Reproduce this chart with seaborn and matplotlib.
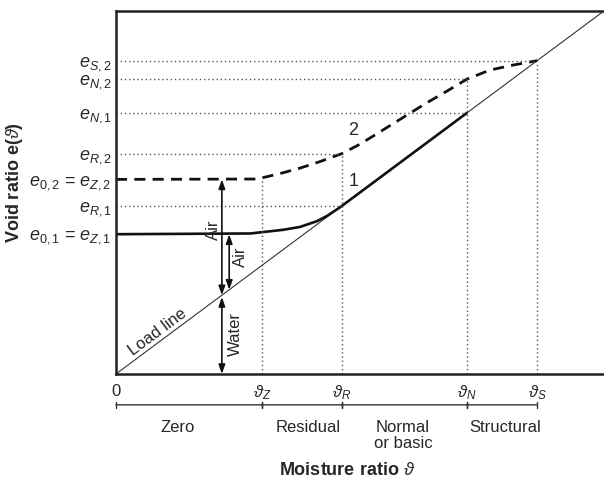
import numpy as np
import pandas as pd
import matplotlib
matplotlib.use('Agg')
import matplotlib.pyplot as plt
import seaborn as sns

# moisture ratios marking the shrinkage zones
theta_marks = [0, 2.99, 4.63, 7.19, 8.63]
theta_labels = ['0', r'$\vartheta_{Z}$', r'$\vartheta_{R}$', r'$\vartheta_{N}$', r'$\vartheta_{S}$']

# void ratio marks on the y axis
e_marks = [3.85, 4.63, 5.36, 6.07, 7.19, 8.12, 8.63]
e_labels = [r'$e_{0,1}$ = $e_{Z,1}$', r'$e_{R,1}$', r'$e_{0,2}$ = $e_{Z,2}$', r'$e_{R,2}$',
            r'$e_{N,1}$', r'$e_{N,2}$', r'$e_{S,2}$']

# shrinkage curve 1 (solid) and 2 (dashed)
curve1_x = [0, 2.75, 3.42, 3.77, 4.12, 4.32, 4.59, 7.19]
curve1_y = [3.85, 3.87, 3.97, 4.05, 4.21, 4.35, 4.59, 7.19]
curve2_x = [0, 2.89, 3.36, 3.77, 4.18, 4.63, 5.0, 5.47, 5.96, 6.37, 6.78, 7.19, 7.66, 8.14, 8.63]
curve2_y = [5.36, 5.37, 5.52, 5.67, 5.85, 6.07, 6.33, 6.72, 7.13, 7.47, 7.79, 8.12, 8.37, 8.51, 8.63]

# load line (saturated soil)
load_x = [0, 10]
load_y = [0, 10]

zone_names = ['Zero', 'Residual', 'Normal\nor basic', 'Structural']
zone_label_x = [1.27, 3.93, 5.88, 7.97]

sns.set_theme(style='white')
plt.rcParams['font.family'] = ['Liberation Sans', 'DejaVu Sans']
plt.rcParams['mathtext.fontset'] = 'custom'
plt.rcParams['mathtext.rm'] = 'Liberation Sans'
plt.rcParams['mathtext.it'] = 'Liberation Sans:italic'
plt.rcParams['mathtext.bf'] = 'Liberation Sans:bold'

fig = plt.figure(figsize=(6.04, 4.86), dpi=100)
ax = fig.add_axes([0.192, 0.2305, 0.808, 0.747])

c1 = pd.DataFrame({'x': curve1_x, 'y': curve1_y})
c2 = pd.DataFrame({'x': curve2_x, 'y': curve2_y})

sns.lineplot(x=load_x, y=load_y, ax=ax, color='#333333', lw=0.8)
sns.lineplot(data=c1, x='x', y='y', ax=ax, color='#111111', lw=1.9, sort=False,
             solid_joinstyle='round')
sns.lineplot(data=c2, x='x', y='y', ax=ax, color='#111111', lw=2.0, sort=False,
             linestyle=(0, (4, 2.6)), dash_joinstyle='round')

# dotted guide lines
dot = dict(color='#555555', lw=1.0, linestyle=(0, (1, 2)))
ax.plot([0, theta_marks[4]], [e_marks[6], e_marks[6]], **dot)
ax.plot([0, theta_marks[3]], [e_marks[5], e_marks[5]], **dot)
ax.plot([0, theta_marks[3]], [e_marks[4], e_marks[4]], **dot)
ax.plot([0, theta_marks[2]], [e_marks[3], e_marks[3]], **dot)
ax.plot([0, theta_marks[2]], [e_marks[1], e_marks[1]], **dot)
ax.plot([theta_marks[1], theta_marks[1]], [0, e_marks[2]], **dot)
ax.plot([theta_marks[2], theta_marks[2]], [0, e_marks[3]], **dot)
ax.plot([theta_marks[3], theta_marks[3]], [0, e_marks[5]], **dot)
ax.plot([theta_marks[4], theta_marks[4]], [0, e_marks[6]], **dot)

# air / water arrows
arr = dict(arrowstyle='<|-|>,head_length=0.45,head_width=0.16', color='#111111', lw=1.2,
           shrinkA=0, shrinkB=0)
xa, xb = 2.17, 2.32
ax.annotate('', xy=(xa, e_marks[2]), xytext=(xa, xa), arrowprops=arr)
ax.annotate('', xy=(xa, xa - 0.05), xytext=(xa, 0), arrowprops=arr)
ax.annotate('', xy=(xb, e_marks[0]), xytext=(xb, xb), arrowprops=arr)
ax.text(1.99, 3.97, 'Air', rotation=90, ha='center', va='center', fontsize=12)
ax.text(2.56, 3.22, 'Air', rotation=90, ha='center', va='center', fontsize=12)
ax.text(2.44, 1.10, 'Water', rotation=90, ha='center', va='center', fontsize=12)
ax.text(0.86, 1.16, 'Load line', rotation=36.6, ha='center', va='center', fontsize=12,
        rotation_mode='anchor')
ax.text(4.86, 5.29, '1', ha='center', va='center', fontsize=13)
ax.text(4.86, 6.72, '2', ha='center', va='center', fontsize=13)

ax.set_xlim(0, 10)
ax.set_ylim(0, 10)
ax.set_xticks(theta_marks)
ax.set_xticklabels(theta_labels, fontsize=12)
ax.set_yticks(e_marks)
ax.set_yticklabels(e_labels, fontsize=13)
ax.tick_params(length=0)
ax.tick_params(axis='x', pad=7)
ax.tick_params(axis='y', pad=3)

for side in ['left', 'bottom', 'top']:
    ax.spines[side].set_color('#222222')
    ax.spines[side].set_linewidth(1.8)
ax.spines['right'].set_visible(False)

# zone bar below the axis
tr = ax.get_xaxis_transform()
for a, b in zip(theta_marks[:-1], theta_marks[1:]):
    ax.annotate('', xy=(a, -0.085), xytext=(b, -0.085), xycoords=tr, textcoords=tr,
                annotation_clip=False,
                arrowprops=dict(arrowstyle='|-|,widthA=0.2,widthB=0.2', color='#333333',
                                lw=1.0, shrinkA=0, shrinkB=0))
for name, x in zip(zone_names, zone_label_x):
    ax.text(x, -0.127, name, transform=tr, ha='center', va='top', fontsize=12,
            linespacing=1.05, clip_on=False)

ax.text(0.473, -0.243, r'Moisture ratio $\vartheta$', transform=ax.transAxes, ha='center',
        va='top', fontsize=13, fontweight='bold')
ax.set_xlabel('')
ax.set_ylabel(r'Void ratio e($\vartheta$)', fontsize=13, fontweight='bold')
ax.yaxis.set_label_coords(-0.186, 0.526)

fig.savefig('out.png', dpi=100)
